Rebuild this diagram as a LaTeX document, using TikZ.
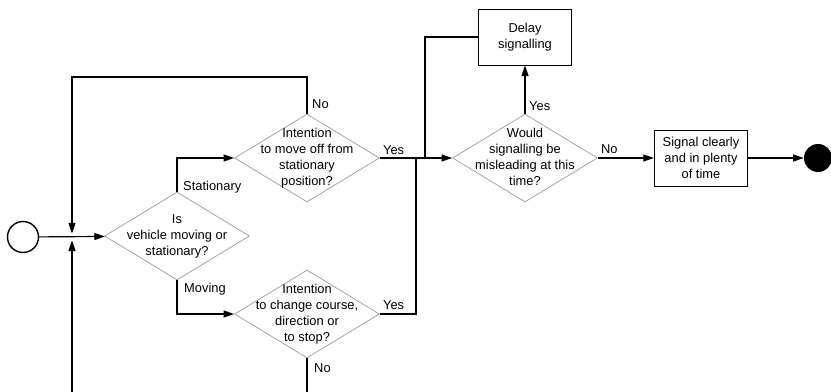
\documentclass[tikz,border=0pt]{standalone}
\usepackage{fontspec}
\setmainfont{Liberation Sans}
\usetikzlibrary{shapes.geometric}
\usetikzlibrary{arrows.meta}
\usetikzlibrary{calc}

\tikzset{
  decision/.style={diamond, draw=gray!70, line width=0.7pt, minimum width=4.35cm, minimum height=2.64cm, inner sep=0pt},
  action/.style={rectangle, draw, line width=0.8pt, minimum width=2.8cm, minimum height=1.68cm, align=center},
  flow/.style={line width=1pt, -{Triangle[length=9pt,width=6pt]}},
  wire/.style={line width=1pt},
  tag/.style={anchor=base west, inner sep=0pt}
}
% text of a decision, kept out of the diamond's size
\newcommand{\dlabel}[1]{\makebox[0pt]{\smash{\raisebox{-0.25em}{\begin{tabular}{@{}c@{}}#1\end{tabular}}}}}

\begin{document}
\begin{tikzpicture}[x=0.03cm, y=-0.03cm, font=\fontsize{11}{13.6}\selectfont]
    \useasboundingbox (0,0) rectangle (831,392);

    % Start and end
    \node[circle, draw, line width=1.2pt, minimum size=0.93cm, inner sep=0pt] (start) at (23,237) {};
    \node[circle, fill, minimum size=0.84cm, inner sep=0pt] (stop) at (818,158) {};

    % Decisions
    \node[decision] (moving) at (177,236) {\dlabel{Is\\vehicle moving or\\stationary?}};
    \node[decision] (moveoff) at (307,158) {\dlabel{Intention\\to move off from\\stationary\\position?}};
    \node[decision] (change) at (307,314) {\dlabel{Intention\\to change course,\\direction or\\to stop?}};
    \node[decision] (mislead) at (525,158) {\dlabel{Would\\signalling be\\misleading at this\\time?}};

    % Actions
    \node[action] (delay) at (525,37) {Delay\\signalling};
    \node[action] (signal) at (701,158) {Signal clearly\\and in plenty\\of time};

    % Junctions and free ends
    \coordinate (merge) at (72,237);
    \coordinate (looptop) at (72,77);
    \coordinate (loopbot) at (72,392);
    \coordinate (joinyes) at (416,158);
    \coordinate (joindelay) at (425,158);
    \coordinate (changeout) at (307,392);

    % Connectors
    \draw[flow] (start) -- (moving);
    \draw[flow, shorten >=3pt] (moveoff.north) |- (looptop) -- (merge);
    \draw[flow, shorten >=3pt] (loopbot) -- (merge);
    \draw[flow] (moving.north) |- (moveoff.west);
    \draw[flow] (moving.south) |- (change.west);
    \draw[wire] (moveoff.east) -- (joindelay);
    \draw[wire] (change.east) -| (joinyes);
    \draw[wire] (delay.west) -| (joindelay);
    \draw[flow] (joindelay) -- (mislead.west);
    \draw[wire] (change.south) -- (changeout);
    \draw[flow] (mislead.north) -- (delay.south);
    \draw[flow] (mislead.east) -- (signal.west);
    \draw[flow] (signal.east) -- (stop.west);

    % Branch labels
    \node[tag] (tstat) at ($(moving.north)+(6,-1)$) {Stationary};
    \node[tag] (tmov) at ($(moving.south)+(7,12)$) {Moving};
    \node[tag] (tno1) at ($(moveoff.north)+(5,-5)$) {No};
    \node[tag] (tyes1) at ($(moveoff.east)+(3,-4)$) {Yes};
    \node[tag] (tyes2) at ($(change.east)+(3,-5)$) {Yes};
    \node[tag] (tno2) at ($(change.south)+(7,14)$) {No};
    \node[tag] (tyes3) at ($(mislead.north)+(4,-3)$) {Yes};
    \node[tag] (tno3) at ($(mislead.east)+(3,-5)$) {No};
\end{tikzpicture}
\end{document}
